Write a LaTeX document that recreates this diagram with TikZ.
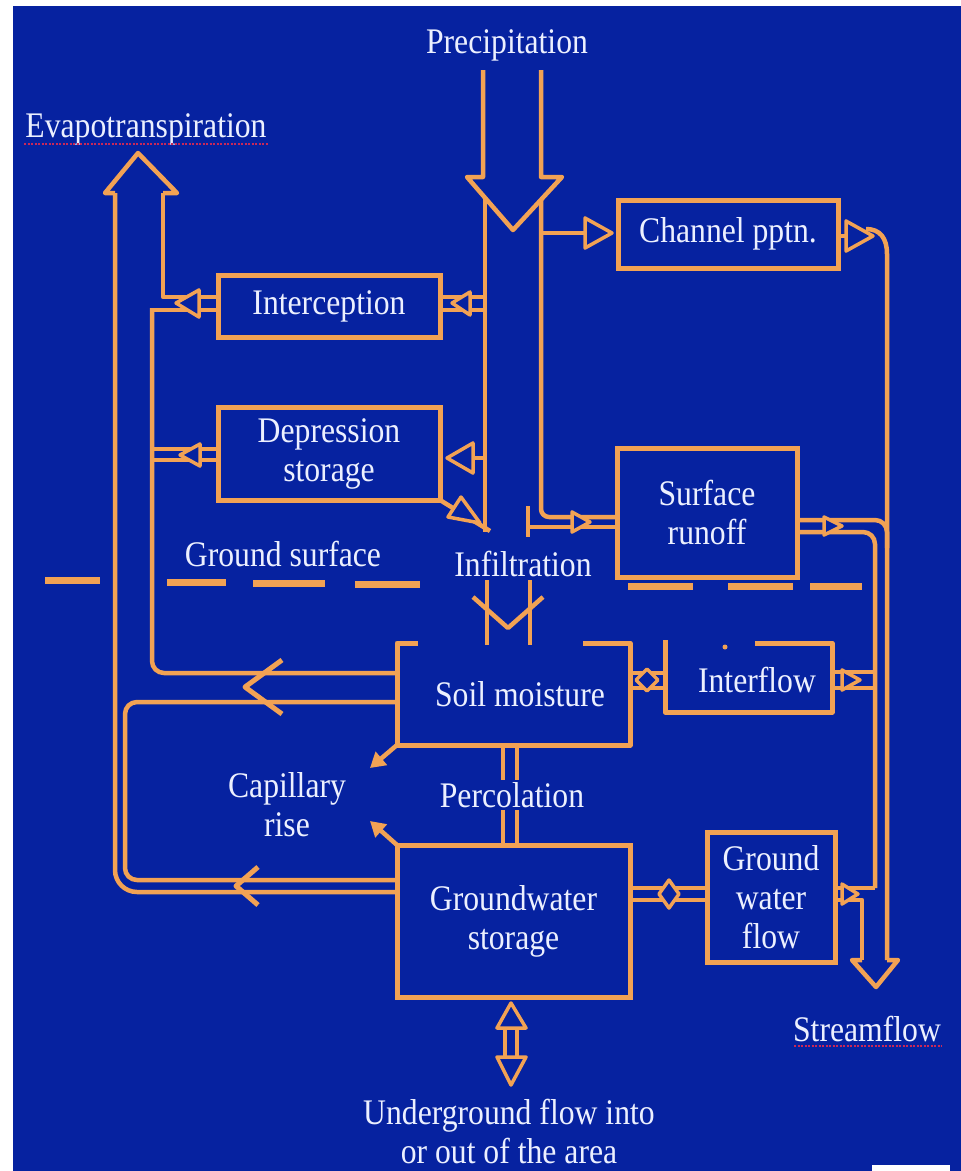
\documentclass[tikz,border=0pt]{standalone}
\usepackage{fontspec}
\setmainfont{Liberation Serif}[FakeStretch=0.88]
\usetikzlibrary{arrows.meta}
\definecolor{bg}{RGB}{6,34,160}
\definecolor{org}{RGB}{242,162,84}
\definecolor{txt}{RGB}{236,240,255}
\definecolor{squig}{RGB}{200,40,90}
\newcommand{\lfont}{\fontsize{36}{39}\selectfont}
\begin{document}
\begin{tikzpicture}[x=1pt,y=-1pt,
 pipe/.style={draw=org,line width=4.5pt,line join=round},
 boxst/.style={draw=org,line width=5pt,fill=bg,text=txt,font=\lfont,align=center,inner sep=0pt},
 lbl/.style={text=txt,font=\lfont,align=center,inner sep=1pt},
 mk/.style={draw=org,line width=3.5pt,fill=bg,line join=round},
 dsh/.style={draw=org,line width=7pt},
 squigline/.style={draw=squig,line width=1.3pt,dash pattern=on 2pt off 1.5pt}]
\useasboundingbox (0,0) rectangle (961,1171);
\fill[bg] (0,0) rectangle (961,1171);
\fill[white] (0,0) rectangle (13,1171);
\fill[white] (0,0) rectangle (961,6);
\fill[white] (872,1165) rectangle (950,1171);

% ---------- pipes ----------
% precipitation arrow
\draw[pipe] (483,70) -- (483,177) -- (467,177) -- (513,230) -- (562,177) -- (541,177) -- (541,70);
\draw[pipe] (485,198) -- (485,532);
\draw[pipe,rounded corners=8pt] (541,200) -- (541,517) -- (617,517);
\draw[pipe] (528,506) -- (528,537);
\draw[pipe] (528,527) -- (617,527);
% channel precipitation
\draw[pipe] (541,233) -- (585,233);
\draw[pipe] (838,236) -- (846,236);
\draw[pipe] (866,229) .. controls (880,229) and (887,238) .. (887,254) -- (887,960);
% surface runoff out
\draw[pipe,rounded corners=12pt] (797,520) -- (887,520) -- (887,548);
\draw[pipe,rounded corners=12pt] (797,532) -- (875,532) -- (875,888);
% interflow out
\draw[pipe] (832,672) -- (875,672);
\draw[pipe] (832,688) -- (875,688);
% ground water flow out
\draw[pipe] (835,888) -- (875,888);
\draw[pipe] (835,900) -- (862,900) -- (862,960);
\draw[pipe] (862,960) -- (852,960) -- (876,987) -- (898,960) -- (887,960);
% evapotranspiration
\draw[pipe] (115,193) -- (105,193) -- (138,153) -- (177,193) -- (163,193);
\draw[pipe] (163,193) -- (163,297) -- (218,297);
\draw[pipe] (218,310) -- (152,310);
\draw[pipe,rounded corners=12pt] (152,308) -- (152,673) -- (397,673);
\draw[pipe,rounded corners=22pt] (115,193) -- (115,892) -- (397,892);
\draw[pipe,rounded corners=12pt] (397,702) -- (125,702) -- (125,880) -- (397,880);
% interception right
\draw[pipe] (440,297) -- (485,297);
\draw[pipe] (440,310) -- (485,310);
% depression
\draw[pipe] (152,449) -- (218,449);
\draw[pipe] (152,460) -- (218,460);
\draw[pipe] (473,458) -- (485,458);
\draw[pipe] (440,500) -- (490,531);
% soil moisture box
\draw[pipe,line width=5pt] (418,643) -- (397,643) -- (397,745) -- (630,745) -- (630,643) -- (583,643);
% infiltration
\draw[pipe] (487,580) -- (487,645);
\draw[pipe] (530,580) -- (530,645);
\draw[pipe] (473,597) -- (508,628) -- (543,597);
% soil -> interflow
\draw[pipe] (630,673) -- (665,673);
\draw[pipe] (630,688) -- (665,688);
% interflow box
\draw[pipe,line width=5pt] (665,640) -- (665,712) -- (832,712) -- (832,643) -- (755,643);
\fill[org] (725,647) circle (2.5);
% percolation
\draw[pipe] (503,745) -- (503,845);
\draw[pipe] (517,745) -- (517,845);
% capillary rise
\draw[pipe,-{Triangle[length=15pt,width=17pt]}] (397,745) -- (370,768);
\draw[pipe,-{Triangle[length=15pt,width=17pt]}] (397,845) -- (370,821);
% underground
\draw[pipe] (505,1027) -- (505,1057);
\draw[pipe] (517,1027) -- (517,1057);
% groundwater -> ground water flow
\draw[pipe] (630,888) -- (707,888);
\draw[pipe] (630,900) -- (707,900);
% ground surface
\draw[dsh] (45,580) -- (100,580);
\draw[dsh] (167,582) -- (226,582);
\draw[dsh] (253,583) -- (325,583);
\draw[dsh] (355,584) -- (420,584);
\draw[dsh] (628,586) -- (693,586);
\draw[dsh] (728,586) -- (793,586);
\draw[dsh] (810,586) -- (862,586);

% ---------- boxes ----------
\node[boxst,minimum width=222pt,minimum height=62pt] (interception) at (329,306) {Interception};
\node[boxst,minimum width=222pt,minimum height=93pt] (depression) at (329,453.5) {Depression\\storage};
\node[boxst,minimum width=220pt,minimum height=68pt] (channel) at (728,234) {Channel pptn.};
\node[boxst,minimum width=180pt,minimum height=129pt] (runoff) at (707,512.5) {Surface\\runoff};
\node[boxst,minimum width=233pt,minimum height=152pt] (gw) at (513.5,921) {Groundwater\\storage};
\node[boxst,minimum width=128pt,minimum height=130pt] (gwflow) at (771,897) {Ground\\water\\flow};
\node[lbl] (soil) at (520,694) {Soil moisture};
\node[lbl] (interflow) at (757,680) {Interflow};

% ---------- markers ----------
\draw[mk] (585,218) -- (612,233) -- (585,248) -- cycle;
\draw[mk] (846,221) -- (873,236) -- (846,251) -- cycle;
\draw[mk] (572,512) -- (590,522) -- (572,532) -- cycle;
\draw[mk] (824,517) -- (842,526) -- (824,535) -- cycle;
\draw[mk] (842,670) -- (860,680) -- (842,690) -- cycle;
\draw[mk] (842,884) -- (858,894) -- (842,904) -- cycle;
\draw[mk] (176,303) -- (199,290) -- (199,317) -- cycle;
\draw[mk] (452,303) -- (470,292) -- (470,315) -- cycle;
\draw[mk] (180,455) -- (200,444) -- (200,466) -- cycle;
\draw[mk] (447,458) -- (473,443) -- (473,473) -- cycle;
\draw[mk] (480,523) -- (448,517) -- (461,497) -- cycle;
\draw[mk] (636,680) -- (647,669) -- (658,680) -- (647,691) -- cycle;
\draw[mk] (659,894) -- (669,880) -- (679,894) -- (669,908) -- cycle;
\draw[pipe,line width=5pt] (282,660) -- (245,687) -- (282,714);
\draw[pipe,line width=5pt] (258,867) -- (236,886) -- (258,905);
\draw[mk] (497,1028) -- (511,1003) -- (526,1028) -- cycle;
\draw[mk] (497,1057) -- (526,1057) -- (511,1085) -- cycle;

% ---------- labels ----------
\node[lbl] (precip) at (507,45) {Precipitation};
\node[lbl] (et) at (146,129) {Evapotranspiration};
\draw[squigline] (24,144) -- (268,144);
\node[lbl] (gs) at (283,554) {Ground surface};
\node[lbl] (infil) at (523,564) {Infiltration};
\node[lbl] (cap) at (287,805) {Capillary\\rise};
\node[lbl,fill=bg,inner sep=2pt] (perc) at (512,795) {Percolation};
\node[lbl] (sf) at (867,1029) {Streamflow};
\draw[squigline] (794,1046) -- (942,1046);
\node[lbl] (ug) at (509,1131) {Underground flow into\\or out of the area};
\end{tikzpicture}
\end{document}
